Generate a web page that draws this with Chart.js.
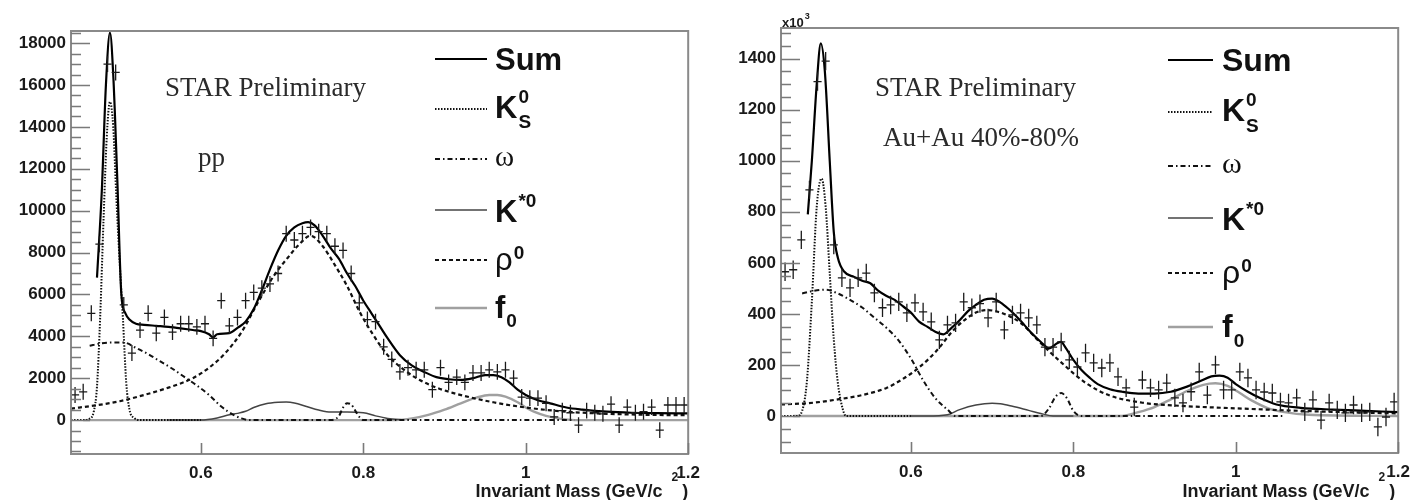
<!DOCTYPE html>
<html>
<head>
<meta charset="utf-8">
<script src="https://cdn.jsdelivr.net/npm/chart.js@4.4.1/dist/chart.umd.min.js"></script>
<style>
  html, body { margin: 0; padding: 0; background: #fff; }
  #wrap { position: relative; width: 1419px; height: 500px; overflow: hidden; }
  canvas { position: absolute; top: 0; }
  #left { left: 0; }
  #right { left: 709px; }
</style>
</head>
<body>
<div id="wrap">
  <canvas id="left" width="709" height="500"></canvas>
  <canvas id="right" width="710" height="500"></canvas>
</div>
<script>
// pi+ pi- invariant mass, STAR preliminary: pp (left) and Au+Au 40-80% (right)

const X_MIN = 0.44, X_MAX = 1.2;
const X_TICKS = [0.6, 0.8, 1.0, 1.2];
const X_TICK_LABELS = ['0.6', '0.8', '1', '1.2'];
const BIN_HALF = 0.005;

// bin centres (GeV/c^2)
const MASS_BINS = [
  0.445,0.455,0.465,0.475,0.485,0.495,0.505,0.515,0.525,0.535,
  0.545,0.555,0.565,0.575,0.585,0.595,0.605,0.615,0.625,0.635,
  0.645,0.655,0.665,0.675,0.685,0.695,0.705,0.715,0.725,0.735,
  0.745,0.755,0.765,0.775,0.785,0.795,0.805,0.815,0.825,0.835,
  0.845,0.855,0.865,0.875,0.885,0.895,0.905,0.915,0.925,0.935,
  0.945,0.955,0.965,0.975,0.985,0.995,1.005,1.015,1.025,1.035,
  1.045,1.055,1.065,1.075,1.085,1.095,1.105,1.115,1.125,1.135,
  1.145,1.155,1.165,1.175,1.185,1.195
];

// ---- pp ----
const PP_Y_TICKS = [0, 2000, 4000, 6000, 8000, 10000, 12000, 14000, 16000, 18000];
const PP_COUNTS = [
  1200,1350,5100,8400,17000,16600,5500,3200,4300,5100,
  4150,4900,4200,4600,4600,4450,4600,3900,5700,4500,
  4900,5700,6100,6300,6500,7000,8900,8600,8900,9200,
  9000,8900,8300,8100,7000,5600,4800,4700,3500,2900,
  2300,2500,2400,2400,1450,2500,1800,2050,1800,2250,
  2250,2400,2300,2400,2000,1100,1050,1050,800,150,
  450,350,-240,450,350,300,760,-240,620,350,
  400,620,-480,720,720,720
];
const PP_ERR = 380;

const PP_SUM_X = [0.472,0.478,0.483,0.488,0.492,0.497,0.502,0.507,0.512,0.52,0.53,0.545,0.56,0.575,0.59,0.6,0.61,0.615,0.62,0.635,0.645,0.655,0.665,0.675,0.685,0.695,0.705,0.715,0.725,0.732,0.74,0.75,0.76,0.77,0.78,0.79,0.8,0.81,0.82,0.83,0.845,0.86,0.875,0.89,0.905,0.92,0.935,0.95,0.96,0.97,0.98,0.99,1.0,1.015,1.03,1.05,1.07,1.1,1.13,1.16,1.2];
const PP_SUM_Y = [6800,11000,16000,18500,16500,11500,6000,5100,4800,4600,4550,4500,4450,4380,4300,4250,4100,3950,4100,4150,4400,4700,5300,6200,7200,8100,8800,9200,9400,9450,9300,8800,8200,7700,7000,6400,5700,5100,4500,3900,3100,2600,2300,2050,1950,1920,2000,2150,2150,2050,1800,1450,1200,950,800,600,500,400,350,330,320];

const PP_KS_X = [0.44,0.455,0.462,0.468,0.472,0.476,0.48,0.484,0.488,0.492,0.496,0.5,0.504,0.508,0.512,0.518,0.525,0.6];
const PP_KS_Y = [0,0,50,400,1600,5000,9500,13500,15200,14000,10500,7500,4800,1800,500,100,0,0];

const PP_OMEGA_X = [0.463,0.475,0.49,0.505,0.52,0.535,0.55,0.565,0.58,0.595,0.61,0.625,0.64,0.65,0.66,0.76,0.77,0.775,0.78,0.785,0.79,0.795,0.8,0.82,1.06];
const PP_OMEGA_Y = [3550,3650,3700,3700,3450,3150,2800,2450,2050,1650,1200,650,250,80,0,0,200,600,800,750,450,150,0,0,0];

const PP_KSTAR_X = [0.56,0.6,0.62,0.635,0.645,0.655,0.665,0.68,0.695,0.705,0.715,0.73,0.745,0.76,0.78,0.8,0.815,0.83,0.85];
const PP_KSTAR_Y = [0,0,100,250,320,420,600,780,850,860,820,650,480,380,380,350,200,80,0];

const PP_RHO_X = [0.44,0.47,0.5,0.53,0.56,0.59,0.61,0.63,0.65,0.67,0.69,0.71,0.72,0.735,0.75,0.765,0.78,0.795,0.81,0.83,0.85,0.87,0.89,0.91,0.93,0.96,1.0,1.05,1.1,1.15,1.2];
const PP_RHO_Y = [550,700,900,1200,1550,2000,2500,3200,4200,5600,6900,7900,8350,8800,8300,7400,6400,5200,4200,3100,2400,1900,1550,1300,1100,850,600,400,300,250,230];

const PP_F0_X = [0.455,0.84,0.86,0.88,0.9,0.92,0.94,0.955,0.965,0.975,0.99,1.0,1.01,1.025,1.04,1.06,1.2];
const PP_F0_Y = [0,0,80,250,500,800,1080,1200,1200,1120,850,600,400,200,80,0,0];

// ---- Au+Au 40%-80% ----
const AU_Y_TICKS = [0, 200, 400, 600, 800, 1000, 1200, 1400];
const AU_COUNTS = [
  565,573,690,886,1310,1390,670,541,502,541,
  560,482,424,435,447,404,443,408,369,298,
  357,365,447,424,440,384,447,337,396,404,
  384,357,270,270,290,220,192,247,208,188,
  208,153,110,35,141,110,102,129,71,51,
  95,173,82,200,102,102,173,149,102,94,
  90,55,51,71,16,63,-16,51,24,12,
  43,12,16,-43,-4,55
];
const AU_ERR = 36;

const AU_SUM_X = [0.473,0.478,0.484,0.489,0.494,0.5,0.505,0.51,0.518,0.53,0.54,0.55,0.56,0.57,0.58,0.59,0.6,0.61,0.62,0.63,0.64,0.65,0.66,0.67,0.68,0.69,0.7,0.71,0.72,0.73,0.74,0.75,0.76,0.77,0.78,0.785,0.79,0.8,0.81,0.82,0.83,0.845,0.86,0.88,0.9,0.92,0.94,0.955,0.97,0.98,0.99,1.0,1.015,1.03,1.05,1.08,1.12,1.16,1.2];
const AU_SUM_Y = [790,1000,1300,1460,1350,1000,720,620,565,545,530,520,490,470,455,430,405,370,350,330,320,345,375,410,435,455,460,445,420,390,355,320,290,265,285,290,270,220,180,150,125,105,95,88,88,95,115,135,155,158,150,125,95,70,45,32,25,20,15];

const AU_KS_X = [0.44,0.46,0.466,0.472,0.478,0.484,0.49,0.495,0.5,0.505,0.51,0.515,0.52,0.6];
const AU_KS_Y = [0,0,20,140,450,820,930,820,560,300,130,40,0,0];

const AU_OMEGA_X = [0.466,0.48,0.495,0.51,0.525,0.54,0.555,0.57,0.585,0.6,0.615,0.63,0.645,0.655,0.76,0.77,0.778,0.785,0.792,0.8,0.81,1.06];
const AU_OMEGA_Y = [480,490,495,480,455,425,385,345,295,225,140,70,25,0,0,30,75,90,70,20,0,0];

const AU_KSTAR_X = [0.6,0.62,0.645,0.66,0.68,0.7,0.71,0.725,0.745,0.76,0.775,0.8];
const AU_KSTAR_Y = [0,0,5,25,43,50,48,38,22,10,0,0];

const AU_RHO_X = [0.44,0.48,0.51,0.54,0.57,0.59,0.61,0.63,0.655,0.68,0.695,0.705,0.715,0.735,0.76,0.785,0.815,0.845,0.885,0.93,1.0,1.1,1.2];
const AU_RHO_Y = [45,52,65,82,110,145,190,250,345,405,415,410,400,365,285,210,130,80,52,40,30,18,10];

const AU_F0_X = [0.455,0.86,0.88,0.9,0.92,0.94,0.96,0.975,0.99,1.005,1.02,1.04,1.06,1.09,1.2];
const AU_F0_Y = [0,0,15,35,65,98,122,128,118,90,60,30,15,5,0];

const FAMILY = 'Liberation Sans';
const SERIF = 'Liberation Serif';

function pts(xs, ys){ return xs.map((x, i) => ({ x, y: ys[i] })); }

// legend rows: text pieces with super/subscripts
const LEGEND_ITEMS = [
  { ds: 0, by: 11, parts: [{ t: 'Sum' }] },
  { ds: 1, by: 9,  parts: [{ t: 'K', gap: 1 }, { t: '0', small: true, dy: -15, stay: true }, { t: 'S', small: true, dy: 10 }] },
  { ds: 2, by: 7,  parts: [{ t: 'ω', w: 'normal', fam: SERIF, k: 0.95 }] },
  { ds: 3, by: 12, parts: [{ t: 'K', gap: 1 }, { t: '*0', small: true, dy: -15 }] },
  { ds: 4, by: 10, parts: [{ t: 'ρ', w: 'normal', gap: 1 }, { t: '0', small: true, dy: -11 }] },
  { ds: 5, by: 10, parts: [{ t: 'f', gap: 1 }, { t: '0', small: true, dy: 9 }] }
];

function drawParts(ctx, x, y, parts, L){
  parts.forEach(p => {
    const size = Math.round(p.small ? L * 0.6 : L * (p.k || 1));
    ctx.font = `${p.w || 'bold'} ${size}px "${p.fam || FAMILY}"`;
    ctx.fillText(p.t, x, y + (p.dy || 0) * L / 31);
    if (!p.stay) x += ctx.measureText(p.t).width + (p.gap || 0);
  });
  return x;
}

const decor = {
  id: 'decor',
  afterDatasetsDraw(chart, args, o){
    const { ctx, chartArea: a, scales: { x, y } } = chart;
    ctx.save();

    // error crosses
    ctx.save();
    ctx.beginPath(); ctx.rect(a.left, a.top, a.width, a.height); ctx.clip();
    ctx.strokeStyle = '#1a1a1a'; ctx.lineWidth = 1.3;
    chart.data.datasets[o.pointsIndex].data.forEach(p => {
      const px = x.getPixelForValue(p.x), py = y.getPixelForValue(p.y);
      ctx.beginPath();
      ctx.moveTo(x.getPixelForValue(p.x - BIN_HALF), py);
      ctx.lineTo(x.getPixelForValue(p.x + BIN_HALF), py);
      ctx.moveTo(px, y.getPixelForValue(p.y - o.err));
      ctx.lineTo(px, y.getPixelForValue(p.y + o.err));
      ctx.stroke();
    });
    ctx.restore();

    // frame + inward ticks
    ctx.strokeStyle = '#8a8a8a'; ctx.lineWidth = 2;
    ctx.strokeRect(a.left, a.top, a.width, a.height);
    ctx.lineWidth = 1.6; ctx.strokeStyle = '#7a7a7a';
    ctx.beginPath();
    const first = Math.ceil(y.min / o.minorStep) * o.minorStep;
    for (let v = first; v <= y.max; v += o.minorStep){
      const py = Math.round(y.getPixelForValue(v)) + 0.5;
      const major = Math.abs(v % o.majorStep) < 1e-6;
      ctx.moveTo(a.left, py); ctx.lineTo(a.left + (major ? 19 : 10), py);
    }
    X_TICKS.forEach(v => {
      const px = Math.round(x.getPixelForValue(v)) + 0.5;
      ctx.moveTo(px, a.bottom); ctx.lineTo(px, a.bottom - 11);
    });
    ctx.stroke();

    // legend
    const lg = o.legend;
    ctx.fillStyle = '#111';
    ctx.textBaseline = 'alphabetic'; ctx.textAlign = 'left';
    LEGEND_ITEMS.forEach((it, i) => {
      const ds = chart.data.datasets[it.ds];
      const ry = lg.rows[i];
      ctx.save();
      ctx.strokeStyle = ds.borderColor; ctx.lineWidth = ds.borderWidth;
      ctx.setLineDash(ds.borderDash || []);
      ctx.beginPath(); ctx.moveTo(lg.x0, ry); ctx.lineTo(lg.x1, ry); ctx.stroke();
      ctx.restore();
      drawParts(ctx, lg.tx, ry + it.by * lg.size / 31, it.parts, lg.size);
    });

    // labels in the pad
    ctx.fillStyle = '#2b2b2b';
    o.texts.forEach(t => {
      ctx.font = `27px "${SERIF}"`;
      ctx.fillText(t.t, t.x, t.y);
    });

    // axis title, right aligned with a raised 2
    ctx.fillStyle = '#1a1a1a';
    ctx.font = `bold 18px "${FAMILY}"`;
    const main = 'Invariant Mass (GeV/c';
    const wMain = ctx.measureText(main).width;
    const wPar = ctx.measureText(')').width;
    ctx.font = `bold 12px "${FAMILY}"`;
    const wTwo = ctx.measureText('2').width;
    const end = a.right + o.titleShift;
    const start = end - wPar - 4 - wTwo - 9 - wMain;
    ctx.font = `bold 18px "${FAMILY}"`;
    ctx.fillText(main, start, 497);
    ctx.fillText(')', end - wPar, 497);
    ctx.font = `bold 12px "${FAMILY}"`;
    ctx.fillText('2', start + wMain + 9, 481);

    if (o.multiplier){
      ctx.font = `bold 13px "${FAMILY}"`;
      ctx.fillText('x10', a.left + 1, a.top - 1);
      const w = ctx.measureText('x10').width;
      ctx.font = `bold 9px "${FAMILY}"`;
      ctx.fillText(o.multiplier, a.left + 2 + w, a.top - 9);
    }
    ctx.restore();
  }
};

function curve(label, data, color, width, dash){
  return {
    label, data, showLine: true, borderColor: color, borderWidth: width,
    borderDash: dash, pointRadius: 0, fill: false, cubicInterpolationMode: 'monotone'
  };
}

function makeChart(id, c){
  const datasets = [
    curve('Sum', c.sum, '#000', 2.2, []),
    curve('K0S', c.ks, '#111', 2, [1.5, 1.5]),
    curve('omega', c.omega, '#111', 2, [5, 3, 1.5, 3]),
    curve('K*0', c.kstar, '#444', 1.5, []),
    curve('rho0', c.rho, '#111', 2.2, [4, 3]),
    curve('f0', c.f0, '#a0a0a0', 2.4, []),
    { label: 'data', data: c.points, showLine: false, pointRadius: 0 }
  ];
  return new Chart(document.getElementById(id), {
    type: 'scatter',
    data: { datasets },
    options: {
      responsive: false, animation: false, devicePixelRatio: 1,
      layout: { padding: { top: c.top, right: c.right, left: 0, bottom: 0 } },
      plugins: {
        legend: { display: false }, tooltip: { enabled: false },
        decor: {
          pointsIndex: 6, err: c.err, minorStep: c.minorStep, majorStep: c.majorStep,
          legend: c.legend, texts: c.texts, titleShift: c.titleShift, multiplier: c.multiplier
        }
      },
      scales: {
        x: {
          type: 'linear', min: X_MIN, max: X_MAX,
          afterFit: s => { s.height = c.xAxisH; },
          afterBuildTicks: s => { s.ticks = X_TICKS.map(v => ({ value: v })); },
          grid: { display: false, drawTicks: false }, border: { display: false },
          ticks: {
            autoSkip: false, maxRotation: 0, padding: 9, color: '#1a1a1a',
            font: { family: FAMILY, size: 17, weight: 'bold' },
            callback: v => X_TICK_LABELS[X_TICKS.findIndex(t => Math.abs(t - v) < 1e-9)]
          }
        },
        y: {
          type: 'linear', min: c.yMin, max: c.yMax,
          afterFit: s => { s.width = c.yAxisW; },
          afterBuildTicks: s => { s.ticks = c.yTicks.map(v => ({ value: v })); },
          grid: { display: false, drawTicks: false }, border: { display: false },
          ticks: {
            padding: 5, color: '#1a1a1a',
            font: { family: FAMILY, size: 17, weight: 'bold' },
            callback: v => String(v)
          }
        }
      }
    },
    plugins: [decor]
  });
}

makeChart('left', {
  sum: pts(PP_SUM_X, PP_SUM_Y), ks: pts(PP_KS_X, PP_KS_Y), omega: pts(PP_OMEGA_X, PP_OMEGA_Y),
  kstar: pts(PP_KSTAR_X, PP_KSTAR_Y), rho: pts(PP_RHO_X, PP_RHO_Y), f0: pts(PP_F0_X, PP_F0_Y),
  points: pts(MASS_BINS, PP_COUNTS), err: PP_ERR,
  yMin: -1620, yMax: 18580, yTicks: PP_Y_TICKS, minorStep: 500, majorStep: 2000,
  top: 31, right: 16, yAxisW: 71, xAxisH: 46, titleShift: 0,
  legend: { x0: 435, x1: 487, tx: 495, size: 31, rows: [59, 109, 159, 210, 260, 308] },
  texts: [{ t: 'STAR Preliminary', x: 165, y: 96 }, { t: 'pp', x: 198, y: 166 }]
});

makeChart('right', {
  sum: pts(AU_SUM_X, AU_SUM_Y), ks: pts(AU_KS_X, AU_KS_Y), omega: pts(AU_OMEGA_X, AU_OMEGA_Y),
  kstar: pts(AU_KSTAR_X, AU_KSTAR_Y), rho: pts(AU_RHO_X, AU_RHO_Y), f0: pts(AU_F0_X, AU_F0_Y),
  points: pts(MASS_BINS, AU_COUNTS), err: AU_ERR,
  yMin: -145, yMax: 1520, yTicks: AU_Y_TICKS, minorStep: 50, majorStep: 200,
  top: 28, right: 13, yAxisW: 72, xAxisH: 47, titleShift: -3,
  legend: { x0: 459, x1: 504, tx: 513, size: 32, rows: [60, 112, 166, 218, 273, 327] },
  texts: [{ t: 'STAR Preliminary', x: 166, y: 96 }, { t: 'Au+Au 40%-80%', x: 174, y: 146 }],
  multiplier: '3'
});
</script>
</body>
</html>
